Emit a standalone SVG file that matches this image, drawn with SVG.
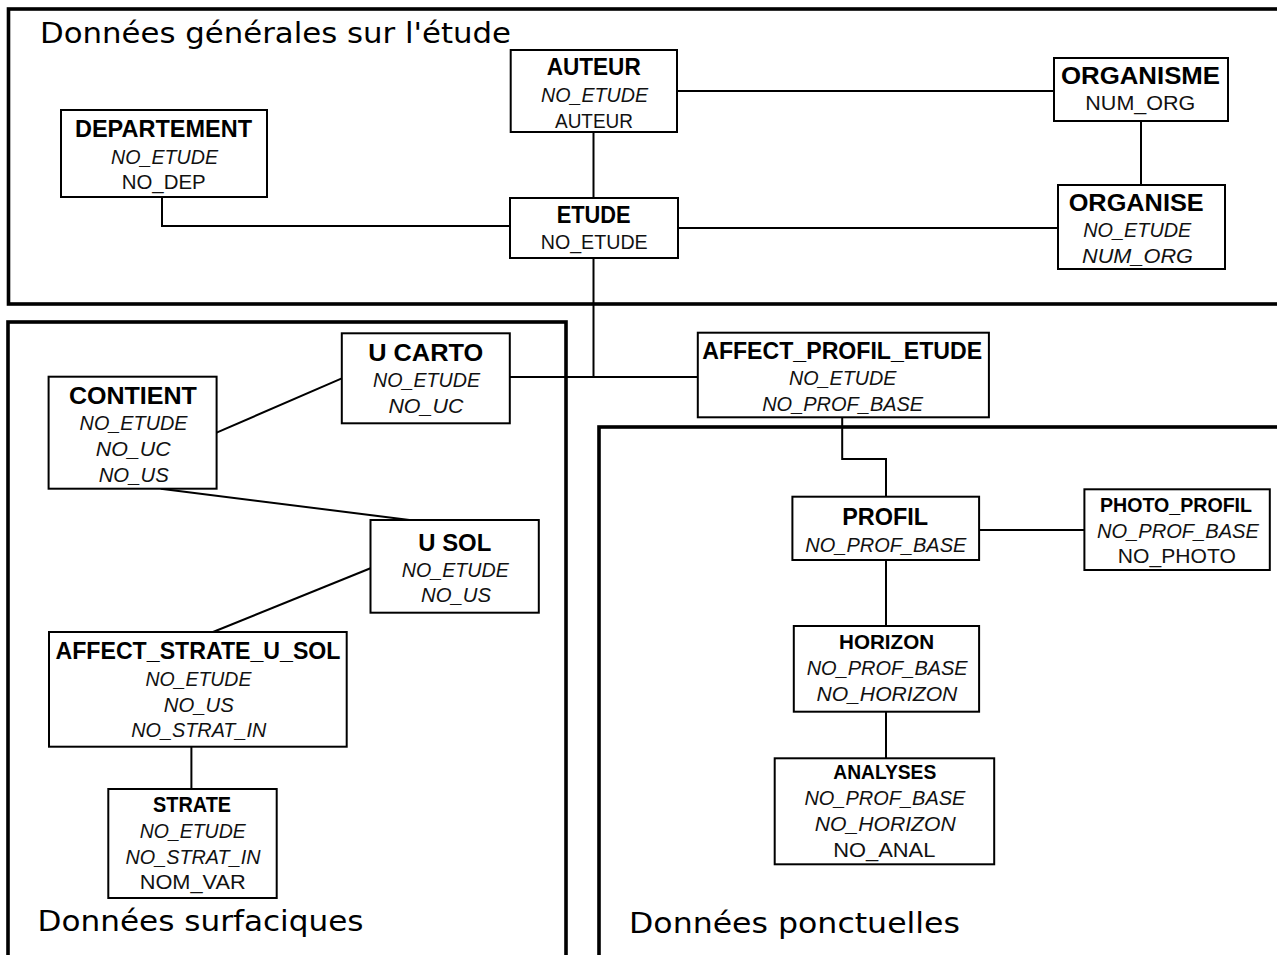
<svg xmlns="http://www.w3.org/2000/svg" width="1277" height="955" viewBox="0 0 1277 955">
<style>
.frame{fill:none;stroke:#000;stroke-width:3.6}
.box{fill:#fff;stroke:#000;stroke-width:2}
.conn{fill:none;stroke:#000;stroke-width:2}
text{font-family:"Liberation Sans",Arial,sans-serif;fill:#111}
.h{font-weight:bold;font-size:24.5px;fill:#000}
.hs{font-weight:bold;font-size:19.5px;fill:#000}
.a{font-size:20px}
.i{font-size:20px;font-style:italic}
.sec{font-family:"DejaVu Sans",sans-serif;font-size:29px;fill:#000}
</style>
<rect width="1277" height="955" fill="#fff"/>
<g id="frames">
<rect class="frame" x="8.5" y="9" width="1285" height="295"/>
<rect class="frame" x="8" y="322" width="558" height="700"/>
<rect class="frame" x="599" y="427" width="700" height="600"/>
<text class="sec" x="40" y="43" textLength="471" lengthAdjust="spacingAndGlyphs">Données générales sur l'étude</text>
<text class="sec" x="37.5" y="930.7" textLength="326" lengthAdjust="spacingAndGlyphs">Données surfaciques</text>
<text class="sec" x="629" y="933.3" textLength="331" lengthAdjust="spacingAndGlyphs">Données ponctuelles</text>
</g>
<g id="connectors">
<path class="conn" d="M593.5 132 V198"/>
<path class="conn" d="M677 91 H1054"/>
<path class="conn" d="M1141 121 V185"/>
<path class="conn" d="M678 228 H1058"/>
<path class="conn" d="M162 197 V226 H510"/>
<path class="conn" d="M593.5 258 V377"/>
<path class="conn" d="M510 377 H698"/>
<path class="conn" d="M216.6 432.7 L341.8 378.3"/>
<path class="conn" d="M160.7 488.7 L409.5 520"/>
<path class="conn" d="M370.5 568.3 L213 632"/>
<path class="conn" d="M191.4 746.7 V789"/>
<path class="conn" d="M842.2 417.3 V459 H886 V496.7"/>
<path class="conn" d="M979 530 H1084.4"/>
<path class="conn" d="M886 560 V626"/>
<path class="conn" d="M886 711.7 V758.3"/>
</g>
<g id="DEPARTEMENT">
<rect class="box" x="61" y="110" width="206" height="87"/>
<text class="h" x="75" y="137" textLength="177" lengthAdjust="spacingAndGlyphs">DEPARTEMENT</text>
<text class="i" x="111" y="164" textLength="107" lengthAdjust="spacingAndGlyphs">NO_ETUDE</text>
<text class="a" x="121.7" y="189" textLength="84" lengthAdjust="spacingAndGlyphs">NO_DEP</text>
</g>
<g id="AUTEUR">
<rect class="box" x="510.7" y="50" width="166.3" height="82"/>
<text class="h" x="546.7" y="75" textLength="94" lengthAdjust="spacingAndGlyphs">AUTEUR</text>
<text class="i" x="541" y="102" textLength="107" lengthAdjust="spacingAndGlyphs">NO_ETUDE</text>
<text class="a" x="555" y="128" textLength="78" lengthAdjust="spacingAndGlyphs">AUTEUR</text>
</g>
<g id="ETUDE">
<rect class="box" x="510" y="198" width="168" height="60"/>
<text class="h" x="556.7" y="223" textLength="74" lengthAdjust="spacingAndGlyphs">ETUDE</text>
<text class="a" x="540.7" y="249" textLength="107" lengthAdjust="spacingAndGlyphs">NO_ETUDE</text>
</g>
<g id="ORGANISME">
<rect class="box" x="1054" y="58" width="174" height="63"/>
<text class="h" x="1061" y="84" textLength="159" lengthAdjust="spacingAndGlyphs">ORGANISME</text>
<text class="a" x="1085.3" y="110" textLength="110" lengthAdjust="spacingAndGlyphs">NUM_ORG</text>
</g>
<g id="ORGANISE">
<rect class="box" x="1058" y="185" width="167" height="84"/>
<text class="h" x="1068.7" y="211" textLength="135" lengthAdjust="spacingAndGlyphs">ORGANISE</text>
<text class="i" x="1083.3" y="237" textLength="108" lengthAdjust="spacingAndGlyphs">NO_ETUDE</text>
<text class="i" x="1082" y="263" textLength="111" lengthAdjust="spacingAndGlyphs">NUM_ORG</text>
</g>
<g id="U_CARTO">
<rect class="box" x="341.8" y="333.3" width="168" height="90"/>
<text class="h" x="368.2" y="360.7" textLength="115" lengthAdjust="spacingAndGlyphs">U CARTO</text>
<text class="i" x="373" y="387" textLength="107" lengthAdjust="spacingAndGlyphs">NO_ETUDE</text>
<text class="i" x="388.4" y="412.7" textLength="75" lengthAdjust="spacingAndGlyphs">NO_UC</text>
</g>
<g id="CONTIENT">
<rect class="box" x="48.6" y="376.7" width="168" height="112"/>
<text class="h" x="68.9" y="404" textLength="128" lengthAdjust="spacingAndGlyphs">CONTIENT</text>
<text class="i" x="79.6" y="430" textLength="108" lengthAdjust="spacingAndGlyphs">NO_ETUDE</text>
<text class="i" x="95.7" y="455.7" textLength="75" lengthAdjust="spacingAndGlyphs">NO_UC</text>
<text class="i" x="98.7" y="481.7" textLength="70" lengthAdjust="spacingAndGlyphs">NO_US</text>
</g>
<g id="U_SOL">
<rect class="box" x="370.5" y="520" width="168.3" height="92.7"/>
<text class="h" x="418.3" y="550.7" textLength="73" lengthAdjust="spacingAndGlyphs">U SOL</text>
<text class="i" x="401.8" y="576.7" textLength="107" lengthAdjust="spacingAndGlyphs">NO_ETUDE</text>
<text class="i" x="421" y="602.3" textLength="70" lengthAdjust="spacingAndGlyphs">NO_US</text>
</g>
<g id="AFFECT_STRATE_U_SOL">
<rect class="box" x="49" y="632" width="297.7" height="114.7"/>
<text class="h" x="55.5" y="659.3" style="font-size:23px" textLength="285" lengthAdjust="spacingAndGlyphs">AFFECT_STRATE_U_SOL</text>
<text class="i" x="145.4" y="686" textLength="106" lengthAdjust="spacingAndGlyphs">NO_ETUDE</text>
<text class="i" x="163.8" y="711.7" textLength="70" lengthAdjust="spacingAndGlyphs">NO_US</text>
<text class="i" x="131.3" y="737.3" textLength="135" lengthAdjust="spacingAndGlyphs">NO_STRAT_IN</text>
</g>
<g id="STRATE">
<rect class="box" x="108.3" y="789" width="168.4" height="109"/>
<text class="h" x="153.1" y="811.7" style="font-size:22px" textLength="78" lengthAdjust="spacingAndGlyphs">STRATE</text>
<text class="i" x="139.7" y="838.3" textLength="106" lengthAdjust="spacingAndGlyphs">NO_ETUDE</text>
<text class="i" x="125.5" y="864" textLength="135" lengthAdjust="spacingAndGlyphs">NO_STRAT_IN</text>
<text class="a" x="139.7" y="889.3" textLength="106" lengthAdjust="spacingAndGlyphs">NOM_VAR</text>
</g>
<g id="AFFECT_PROFIL_ETUDE">
<rect class="box" x="697.8" y="332.7" width="291.1" height="84.6"/>
<text class="h" x="702.2" y="359.3" style="font-size:23.5px" textLength="280" lengthAdjust="spacingAndGlyphs">AFFECT_PROFIL_ETUDE</text>
<text class="i" x="788.9" y="385.3" textLength="107.5" lengthAdjust="spacingAndGlyphs">NO_ETUDE</text>
<text class="i" x="762.2" y="410.7" textLength="161" lengthAdjust="spacingAndGlyphs">NO_PROF_BASE</text>
</g>
<g id="PROFIL">
<rect class="box" x="792.4" y="496.7" width="186.7" height="63.3"/>
<text class="h" x="842.2" y="525" textLength="86" lengthAdjust="spacingAndGlyphs">PROFIL</text>
<text class="i" x="805.3" y="551.7" textLength="161" lengthAdjust="spacingAndGlyphs">NO_PROF_BASE</text>
</g>
<g id="PHOTO_PROFIL">
<rect class="box" x="1084.4" y="489.3" width="185.4" height="80.7"/>
<text class="hs" x="1100" y="511.7" textLength="152" lengthAdjust="spacingAndGlyphs">PHOTO_PROFIL</text>
<text class="i" x="1096.9" y="537.7" textLength="162" lengthAdjust="spacingAndGlyphs">NO_PROF_BASE</text>
<text class="a" x="1117.8" y="563.3" textLength="118" lengthAdjust="spacingAndGlyphs">NO_PHOTO</text>
</g>
<g id="HORIZON">
<rect class="box" x="793.8" y="626" width="185.3" height="85.7"/>
<text class="hs" x="839.1" y="649.3" textLength="95" lengthAdjust="spacingAndGlyphs">HORIZON</text>
<text class="i" x="806.7" y="675" textLength="161" lengthAdjust="spacingAndGlyphs">NO_PROF_BASE</text>
<text class="i" x="816.4" y="701" textLength="141" lengthAdjust="spacingAndGlyphs">NO_HORIZON</text>
</g>
<g id="ANALYSES">
<rect class="box" x="774.7" y="758.3" width="219.5" height="106"/>
<text class="hs" x="833.3" y="779.3" textLength="103" lengthAdjust="spacingAndGlyphs">ANALYSES</text>
<text class="i" x="804.4" y="805" textLength="161" lengthAdjust="spacingAndGlyphs">NO_PROF_BASE</text>
<text class="i" x="814.7" y="831" textLength="141" lengthAdjust="spacingAndGlyphs">NO_HORIZON</text>
<text class="a" x="833.3" y="856.7" textLength="102" lengthAdjust="spacingAndGlyphs">NO_ANAL</text>
</g>
</svg>
